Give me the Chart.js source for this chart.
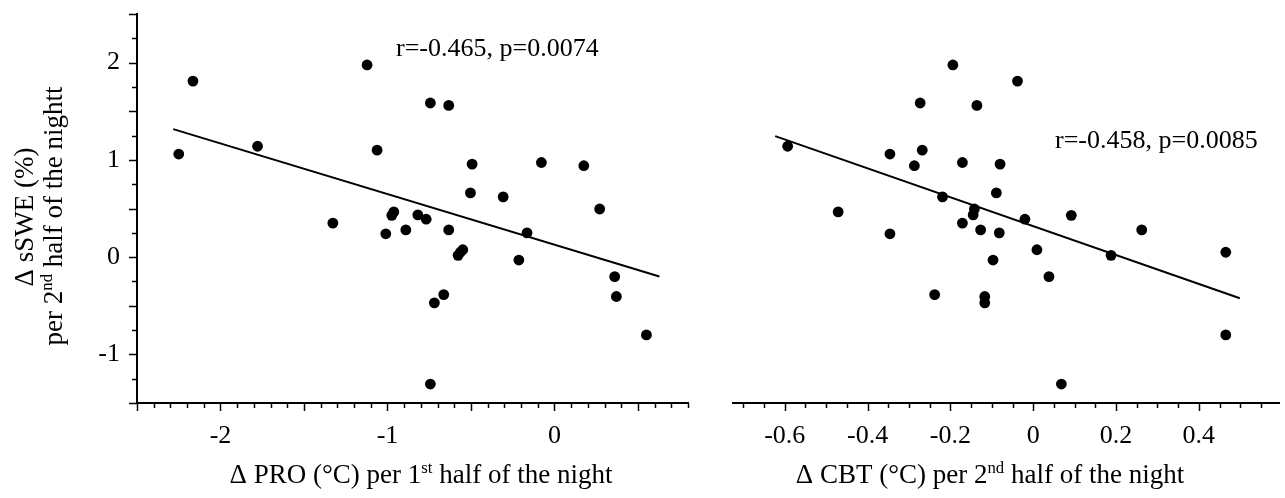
<!DOCTYPE html>
<html><head><meta charset="utf-8">
<script src="https://cdn.jsdelivr.net/npm/chart.js@4.4.1/dist/chart.umd.min.js"></script>
<style>
html,body{margin:0;padding:0;background:#fff;overflow:hidden}
#wrap{position:relative;width:1285px;height:498px;background:#fff}
canvas{position:absolute;top:0}
#c1{left:0}
#c2{left:705px}
</style></head><body>
<div id="wrap"><canvas id="c1" width="705" height="498"></canvas><canvas id="c2" width="580" height="498"></canvas></div>
<script>
// Δ sSWE (%) per 2nd half of the night (shared by both panels)
const sswe = [1.976, 1.81, 1.585, 1.56, 1.14, 1.10, 1.06, 0.973, 0.956, 0.94, 0.66, 0.62, 0.495, 0.465, 0.435, 0.43, 0.39, 0.35, 0.28, 0.28, 0.25, 0.24, 0.076, 0.05, 0.018, -0.03, -0.2, -0.385, -0.405, -0.47, -0.80, -1.305];
// Δ PRO (°C) per 1st half of the night
const pro = [-1.122, -2.165, -0.743, -0.633, -1.778, -1.062, -2.25, -0.078, -0.493, 0.176, -0.503, -0.307, 0.271, -0.962, -0.818, -0.974, -0.768, -1.327, -0.89, -0.633, -0.164, -1.010, -0.549, -0.563, -0.577, -0.213, 0.361, -0.663, 0.371, -0.719, 0.551, -0.743];
// Δ CBT (°C) per 2nd half of the night
const cbt = [-0.194, -0.038, -0.273, -0.136, -0.593, -0.268, -0.346, -0.171, -0.08, -0.287, -0.089, -0.219, -0.142, -0.471, -0.145, 0.092, -0.02, -0.171, -0.127, 0.262, -0.082, -0.346, 0.009, 0.465, 0.188, -0.097, 0.038, -0.238, -0.117, -0.117, 0.465, 0.068];
// regression lines (end points)
const proFitX = [-2.283, 0.629];
const proFitY = [1.316, -0.199];
const cbtFitX = [-0.623, 0.499];
const cbtFitY = [1.244, -0.423];
// tick labels
const proTicks = [-2, -1, 0];
const cbtTicks = [-0.6, -0.4, -0.2, 0, 0.2, 0.4];
const swTicks = [-1, 0, 1, 2];
// annotations
const statsPro = 'r=-0.465, p=0.0074';
const statsCbt = 'r=-0.458, p=0.0085';

const FONT = '"Liberation Serif", "Times New Roman", serif';
const TICK_SIZE = 26, TITLE_SIZE = 27, NOTE_SIZE = 26;

function pts(xs, ys) { return xs.map((x, i) => ({x: x, y: ys[i]})); }

function drawRuns(ctx, runs, size, x, y, align) {
  const parts = runs.map(r => {
    const s = r.sup ? size * 0.62 : size;
    ctx.font = s + 'px ' + FONT;
    return {t: r.t, s: s, sup: r.sup, w: ctx.measureText(r.t).width};
  });
  const total = parts.reduce((a, p) => a + p.w, 0);
  let cx = align === 'center' ? x - total / 2 : x;
  ctx.textAlign = 'left';
  ctx.textBaseline = 'alphabetic';
  parts.forEach(p => {
    ctx.font = p.s + 'px ' + FONT;
    ctx.fillText(p.t, cx, p.sup ? y - size * 0.38 : y);
    cx += p.w;
  });
}

const tickPlugin = {
  id: 'tickmarks',
  afterDraw(chart, args, o) {
    const ctx = chart.ctx, xs = chart.scales.x, ys = chart.scales.y, a = chart.chartArea;
    ctx.save();
    ctx.strokeStyle = '#000';
    ctx.lineWidth = 1.5;
    const isMul = (v, m) => Math.abs(v / m - Math.round(v / m)) < 1e-6;
    for (let i = Math.ceil(xs.min / o.xStep - 1e-9); i * o.xStep <= xs.max + 1e-9; i++) {
      const v = i * o.xStep, px = Math.round(xs.getPixelForValue(v)) + 0.5;
      const len = isMul(v, o.xMajor) ? 8 : 5;
      ctx.beginPath(); ctx.moveTo(px, a.bottom); ctx.lineTo(px, a.bottom + len); ctx.stroke();
    }
    if (o.drawY) {
      for (let i = Math.ceil(ys.min / o.yStep - 1e-9); i * o.yStep <= ys.max + 1e-9; i++) {
        const v = i * o.yStep, py = Math.round(ys.getPixelForValue(v)) + 0.5;
        const len = isMul(v, o.yMajor) ? 8 : 5;
        ctx.beginPath(); ctx.moveTo(a.left, py); ctx.lineTo(a.left - len, py); ctx.stroke();
      }
    }
    ctx.fillStyle = '#000';
    (o.texts || []).forEach(t => {
      if (t.rot) {
        ctx.save();
        ctx.translate(t.x, t.y);
        ctx.rotate(-Math.PI / 2);
        drawRuns(ctx, t.runs, t.size, 0, 0, 'center');
        ctx.restore();
      } else {
        drawRuns(ctx, t.runs, t.size, t.x, t.y, t.align || 'left');
      }
    });
    ctx.restore();
  }
};

function makeChart(id, xs, xmin, xmax, xticks, fitX, fitY, padLeft, padRight, showY, plugOpts) {
  return new Chart(document.getElementById(id), {
    type: 'scatter',
    data: {
      datasets: [
        {data: pts(xs, sswe), pointRadius: 5.4, pointBackgroundColor: '#000', pointBorderWidth: 0, pointBorderColor: '#000', order: 0},
        {data: pts(fitX, fitY), showLine: true, borderColor: '#000', borderWidth: 2, pointRadius: 0, order: 1}
      ]
    },
    options: {
      responsive: false,
      animation: false,
      devicePixelRatio: 1,
      layout: {padding: {left: padLeft, right: padRight, top: 14, bottom: 0}},
      plugins: {legend: {display: false}, tooltip: {enabled: false}, tickmarks: plugOpts},
      scales: {
        x: {
          type: 'linear', min: xmin, max: xmax, position: 'bottom',
          grid: {display: false, drawTicks: false},
          border: {display: true, color: '#000', width: 2},
          afterBuildTicks: s => { s.ticks = xticks.map(v => ({value: v})); },
          afterFit: s => { s.height = 95; s.paddingLeft = 0; s.paddingRight = 0; },
          ticks: {color: '#000', font: {family: FONT, size: TICK_SIZE}, padding: 18, maxRotation: 0, autoSkip: false,
                  callback: v => String(Math.round(v * 10) / 10)}
        },
        y: {
          type: 'linear', min: -1.5, max: 2.5, display: showY,
          grid: {display: false, drawTicks: false},
          border: {display: true, color: '#000', width: 2},
          afterBuildTicks: s => { s.ticks = swTicks.map(v => ({value: v})); },
          afterFit: s => { if (showY) s.width = 137; s.paddingTop = 0; s.paddingBottom = 0; },
          ticks: {color: '#000', font: {family: FONT, size: TICK_SIZE}, padding: 17, callback: v => String(v)}
        }
      }
    },
    plugins: [tickPlugin]
  });
}

makeChart('c1', pro, -2.5, 0.8, proTicks, proFitX, proFitY, 0, 17, true, {
  xStep: 0.1, xMajor: 0.5, yStep: 0.25, yMajor: 0.5, drawY: true,
  texts: [
    {runs: [{t: statsPro}], size: NOTE_SIZE, x: 396, y: 56},
    {runs: [{t: 'Δ PRO (°C) per 1'}, {t: 'st', sup: true}, {t: ' half of the night'}], size: TITLE_SIZE, x: 421, y: 483, align: 'center'},
    {runs: [{t: 'Δ sSWE (%)'}], size: TITLE_SIZE, x: 33, y: 217, rot: true},
    {runs: [{t: 'per 2'}, {t: 'nd', sup: true}, {t: ' half of the nightt'}], size: TITLE_SIZE, x: 62, y: 216, rot: true}
  ]
});
makeChart('c2', cbt, -0.725, 0.595, cbtTicks, cbtFitX, cbtFitY, 28, 0, false, {
  xStep: 0.05, xMajor: 0.2, drawY: false,
  texts: [
    {runs: [{t: statsCbt}], size: NOTE_SIZE, x: 1055 - 705, y: 148},
    {runs: [{t: 'Δ CBT (°C) per 2'}, {t: 'nd', sup: true}, {t: ' half of the night'}], size: TITLE_SIZE, x: 990 - 705, y: 483, align: 'center'}
  ]
});
</script>
</body></html>
